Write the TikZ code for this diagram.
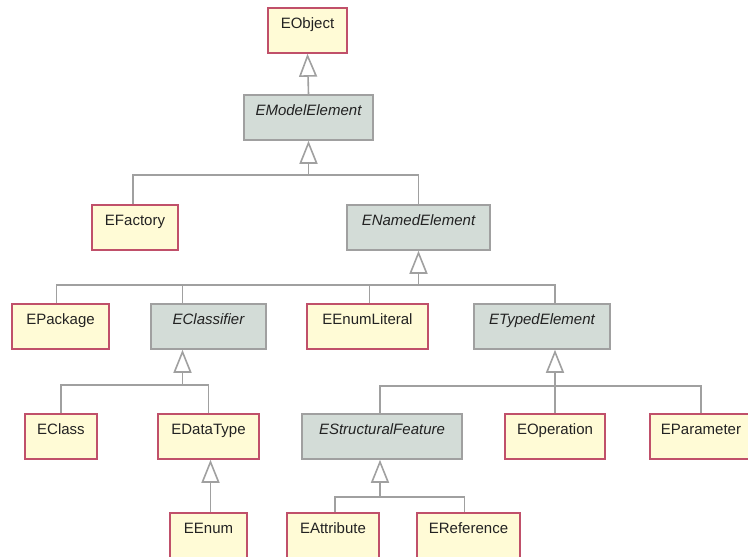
\documentclass[tikz,border=0pt]{standalone}
\usepackage{fontspec}
\setmainfont{Liberation Sans}
\definecolor{ClassFill}{HTML}{FFFBD6}
\definecolor{ClassLine}{HTML}{C0506A}
\definecolor{AbsFill}{HTML}{D3DCD7}
\definecolor{AbsLine}{HTML}{A0A0A0}
\definecolor{LinkGray}{HTML}{A0A0A0}
\definecolor{TextGray}{HTML}{222222}
\usetikzlibrary{arrows.meta,positioning}

\begin{document}
\begin{tikzpicture}[x=1pt,y=1pt,
cls/.style={draw=ClassLine,fill=ClassFill,line width=1.5pt,text=TextGray,inner xsep=0pt,inner ysep=3pt,text height=17pt,text depth=22pt,font=\fontsize{15}{17}\selectfont},
abs/.style={cls,draw=AbsLine,fill=AbsFill,font=\fontsize{15}{17}\selectfont\itshape},
lnk/.style={draw=LinkGray,line width=1.6pt},
gen/.style={lnk,-{Triangle[open,length=23pt,width=18pt,fill=white]}}
]
\useasboundingbox (0,0) rectangle (748,-557);
\node[cls,minimum width=79pt] (obj) at (307.5,-30.5) {EObject};
\node[abs,minimum width=129pt] (model) at (308.5,-117.5) {EModelElement};
\node[cls,minimum width=86pt] (fac) at (135,-227.5) {EFactory};
\node[abs,minimum width=143pt] (named) at (418.5,-227.5) {ENamedElement};
\node[cls,minimum width=97pt] (pkg) at (60.5,-326.5) {EPackage};
\node[abs,minimum width=115pt] (clsf) at (208.5,-326.5) {EClassifier};
\node[cls,minimum width=121pt] (lit) at (367.5,-326.5) {EEnumLiteral};
\node[abs,minimum width=136pt] (typed) at (542,-326.5) {ETypedElement};
\node[cls,minimum width=72pt] (cl) at (61,-436.5) {EClass};
\node[cls,minimum width=101pt] (dt) at (208.5,-436.5) {EDataType};
\node[abs,minimum width=160pt] (sf) at (382,-436.5) {EStructuralFeature};
\node[cls,minimum width=100pt] (op) at (555,-436.5) {EOperation};
\node[cls,minimum width=102pt] (par) at (701,-436.5) {EParameter};
\node[cls,minimum width=77pt] (enm) at (208.5,-535.5) {EEnum};
\node[cls,minimum width=92pt] (attr) at (333,-535.5) {EAttribute};
\node[cls,minimum width=103pt] (ref) at (468.5,-535.5) {EReference};

% generalizations
\draw[gen] (model.north) -- (obj.south);

\coordinate[below=34pt of model.south] (jm);
\draw[gen] (jm) -- (model.south);
\draw[lnk] ([xshift=-2pt]fac.north) |- (jm) -| (named.north);

\coordinate[below=34pt of named.south] (jn);
\draw[gen] (jn) -- (named.south);
\draw[lnk] ([xshift=-4pt]pkg.north) |- (jn) -| ([xshift=13pt]typed.north);
\draw[lnk] ([xshift=-26pt]clsf.north) |- (jn);
\draw[lnk] ([xshift=2pt]lit.north) |- (jn);

\coordinate[below=35pt of clsf.south,xshift=-26pt] (jc);
\draw[gen] (jc) -- (clsf.south -| jc);
\draw[lnk] (cl.north) |- (jc) -| (dt.north);

\coordinate[below=36pt of typed.south,xshift=13pt] (jt);
\draw[gen] (jt) -- (typed.south -| jt);
\draw[lnk] ([xshift=-2pt]sf.north) |- (jt) -| (par.north);
\draw[lnk] (op.north) -- (jt);

\draw[gen] ([xshift=2pt]enm.north) -- ([xshift=2pt]dt.south);

\coordinate[below=37pt of sf.south,xshift=-2pt] (js);
\draw[gen] (js) -- (sf.south -| js);
\draw[lnk] ([xshift=2pt]attr.north) |- (js) -| ([xshift=-4pt]ref.north);
\end{tikzpicture}
\end{document}
